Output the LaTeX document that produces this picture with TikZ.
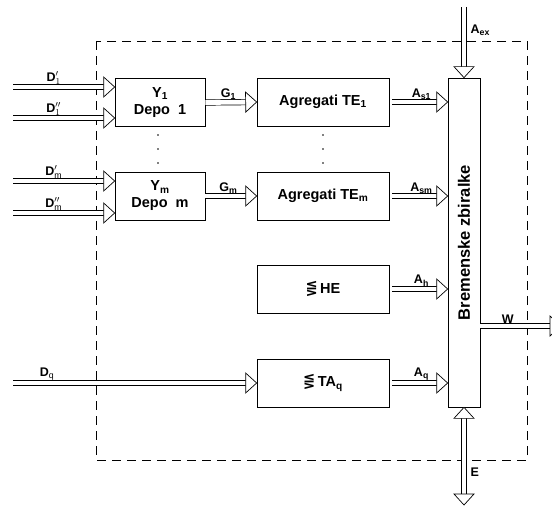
\documentclass[tikz,border=0pt]{standalone}
\usepackage{fontspec}
\setmainfont{Liberation Sans}
\newfontfamily\symfont{DejaVu Sans}
\usetikzlibrary{arrows.meta,positioning,calc}

% hollow block arrow: double shaft, then an open head drawn over its end
\newcommand{\fathead}[2]{%
  \filldraw[head] (#2) -- ($(#2)!11pt!(#1)!10pt!90:(#2)$) -- ($(#2)!11pt!(#1)!10pt!-90:(#2)$) -- cycle;}
\newcommand{\fat}[4][]{%
  \draw[shaft,#1] (#2) -- (#3) #4;
  \fathead{#2}{#3}}

\begin{document}
\begin{tikzpicture}[x=1pt,y=-1pt,font=\bfseries\fontsize{12.5}{14}\selectfont]
  \tikzstyle{blok}=[draw,line width=0.7pt,minimum width=132pt,minimum height=48pt,align=center,inner sep=0pt,font=\bfseries\fontsize{14.5}{17}\selectfont]
  \tikzstyle{shaft}=[double,double distance=4.8pt,line width=0.7pt,shorten >=9pt]
  \tikzstyle{head}=[line width=0.7pt,fill=white,line join=miter]
  \tikzstyle{lab}=[above,inner sep=2.5pt]
  \useasboundingbox (0,0) rectangle (552,508);
  % system boundary
  \draw[line width=0.7pt,dash pattern=on 9pt off 6pt] (96,41) rectangle (527,460);
  % blocks
  \node[blok,minimum width=90pt] (y1) at (160,102.5) {Y\textsubscript{1}\\Depo~~1};
  \node[blok,minimum width=90pt] (ym) at (160,196) {Y\textsubscript{m}\\Depo~~m};
  \node[blok] (te1) at (323,102) {Agregati TE\textsubscript{1}};
  \node[blok] (tem) at (323,196) {Agregati TE\textsubscript{m}};
  \node[blok] (he) at (323,289) {{\symfont ⋚}\,HE};
  \node[blok] (taq) at (323,383) {{\symfont ⋚}\,TA\textsubscript{q}};
  \node[draw,line width=0.7pt,rotate=90,minimum width=329pt,minimum height=32pt,inner sep=0pt,font=\bfseries\fontsize{16.5}{18}\selectfont] (bus) at (464,242.5) {Bremenske zbiralke};
  % dots
  \foreach \yy in {135,149,163} {
    \fill (158,\yy) circle (0.8pt);
    \fill (323,\yy) circle (0.8pt);
  }
  % inputs
  \coordinate (d1a) at (13,87);
  \coordinate (d1b) at (13,118);
  \coordinate (dma) at (13,181);
  \coordinate (dmb) at (13,213);
  \coordinate (dq) at (13,383);
  \fat{d1a}{d1a -| y1.west}{node[lab,pos=0.4] {D$^{\prime}_{1}$}}
  \fat{d1b}{d1b -| y1.west}{node[lab,pos=0.4] {D$^{\prime\prime}_{1}$}}
  \fat{dma}{dma -| ym.west}{node[lab,pos=0.4] {D$^{\prime}_{\mathrm{m}}$}}
  \fat{dmb}{dmb -| ym.west}{node[lab,pos=0.4] {D$^{\prime\prime}_{\mathrm{m}}$}}
  \fat{dq}{dq -| taq.west}{node[lab,pos=0.14] {D$_{\mathrm{q}}$}}
  % fuel to units
  \fat{y1.east}{te1.west}{node[lab,pos=0.45] {G\textsubscript{1}}}
  \fat{ym.east}{tem.west}{node[lab,pos=0.45] {G\textsubscript{m}}}
  % units to bus
  \fat[shorten <=3pt]{te1.east}{te1.east -| bus.north}{node[lab,pos=0.55] {A\textsubscript{s1}}}
  \fat[shorten <=3pt]{tem.east}{tem.east -| bus.north}{node[lab,pos=0.55] {A\textsubscript{sm}}}
  \fat[shorten <=3pt]{he.east}{he.east -| bus.north}{node[lab,pos=0.55] {A\textsubscript{h}}}
  \fat[shorten <=3pt]{taq.east}{taq.east -| bus.north}{node[lab,pos=0.55] {A\textsubscript{q}}}
  % exchange
  \coordinate (aex) at (464,7);
  \fat{aex}{bus.east}{node[right=3pt,pos=0.33] {A\textsubscript{ex}}}
  \coordinate (w) at (561,326);
  \fat{w -| bus.south}{w}{node[lab,pos=0.34] {W}}
  \coordinate (e) at (464,505);
  \fat[shorten <=9pt]{bus.west}{e}{node[right=3pt,pos=0.66] {E}}
  \fathead{e}{bus.west}
\end{tikzpicture}
\end{document}
